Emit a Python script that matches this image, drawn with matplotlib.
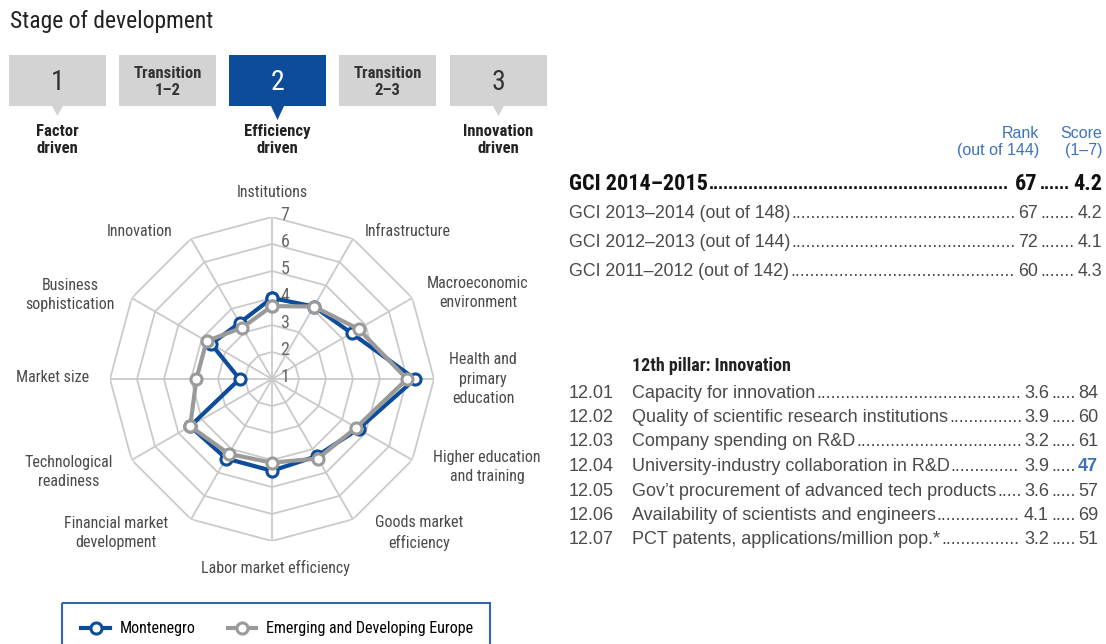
import numpy as np
import matplotlib
matplotlib.use('Agg')
import matplotlib.pyplot as plt
from matplotlib.patches import Rectangle, Polygon

# ---- data ----
pillars = ['Institutions', 'Infrastructure', 'Macroeconomic\nenvironment',
           'Health and\nprimary\neducation', 'Higher education\nand training',
           'Goods market\nefficiency', 'Labor market efficiency',
           'Financial market\ndevelopment', 'Technological\nreadiness',
           'Market size', 'Business\nsophistication', 'Innovation']
montenegro = [4.0, 4.1, 4.4, 6.3, 4.7, 4.3, 4.4, 4.4, 4.5, 2.2, 3.6, 3.4]
europe = [3.7, 4.1, 4.7, 6.0, 4.6, 4.4, 4.1, 4.2, 4.5, 3.8, 3.8, 3.2]
ring_values = [1, 2, 3, 4, 5, 6, 7]

stages = ['1', 'Transition\n1–2', '2', 'Transition\n2–3', '3']
stage_driven = {0: 'Factor\ndriven', 2: 'Efficiency\ndriven', 4: 'Innovation\ndriven'}
current_stage = 2

gci_labels = ['GCI 2014–2015', 'GCI 2013–2014 (out of 148)',
              'GCI 2012–2013 (out of 144)', 'GCI 2011–2012 (out of 142)']
gci_rank = ['67', '67', '72', '60']
gci_score = ['4.2', '4.2', '4.1', '4.3']

pillar_codes = ['12.01', '12.02', '12.03', '12.04', '12.05', '12.06', '12.07']
pillar_items = ['Capacity for innovation',
                'Quality of scientific research institutions',
                'Company spending on R&D',
                'University-industry collaboration in R&D',
                'Gov’t procurement of advanced tech products',
                'Availability of scientists and engineers',
                'PCT patents, applications/million pop.*']
pillar_scores = ['3.6', '3.9', '3.2', '3.9', '3.6', '4.1', '3.2']
pillar_ranks = ['84', '60', '61', '47', '57', '69', '51']
highlight_rank = 3  # 12.04 shown in blue

# ---- style ----
NARROW = ['Liberation Sans Narrow', 'Roboto Condensed', 'DejaVu Sans Condensed',
          'Liberation Sans']
REG = ['Liberation Sans', 'DejaVu Sans']
BLUE = '#0d4c9b'
LBLUE = '#3d72b8'
GRAY_BOX = '#d3d3d3'
TXT = '#4a4a4a'
GRID = '#cacaca'
GREY_LINE = '#9a9a9a'

fig = plt.figure(figsize=(11.06, 6.44), dpi=100)
bg = fig.add_axes([0, 0, 1, 1])
bg.set_xlim(0, 1106)
bg.set_ylim(644, 0)
bg.axis('off')

bg.text(10, 21, 'Stage of development', fontsize=17, family=NARROW,
        color='#222222', va='center', ha='left')

# stage boxes
box_x = [9, 119, 229, 339, 450]
for i, (lab, x) in enumerate(zip(stages, box_x)):
    col = BLUE if i == current_stage else GRAY_BOX
    tcol = 'white' if i == current_stage else '#333333'
    bg.add_patch(Rectangle((x, 55), 97, 51, color=col, lw=0))
    if lab.startswith('Transition'):
        bg.text(x + 48.5, 82, lab, ha='center', va='center', fontsize=12,
                weight='bold', family=NARROW, color=tcol, linespacing=1.15)
    else:
        bg.text(x + 48.5, 82, lab, ha='center', va='center', fontsize=20,
                family=NARROW, color=tcol)
    if i in stage_driven:
        tip = 120 if i == current_stage else 116
        hw = 7 if i == current_stage else 6
        bg.add_patch(Polygon([[x + 48.5 - hw, 105], [x + 48.5 + hw, 105],
                              [x + 48.5, tip]], color=col, lw=0))
        bg.text(x + 48.5, 140, stage_driven[i], ha='center', va='center',
                fontsize=12, weight='bold', family=NARROW, color='#222222',
                linespacing=1.1)

# ---- radar ----
cx, cy, R = 272, 379, 162
rax = fig.add_axes([(cx - R) / 1106, (644 - cy - R) / 644, 2 * R / 1106, 2 * R / 644],
                   projection='polar')
rax.set_theta_zero_location('N')
rax.set_theta_direction(-1)
rax.set_ylim(1, 7)
rax.axis('off')
rax.patch.set_alpha(0)

theta = np.linspace(0, 2 * np.pi, len(pillars), endpoint=False)
theta_c = np.append(theta, theta[0])
for r in ring_values[1:]:
    rax.plot(theta_c, [r] * len(theta_c), color=GRID, lw=1.3, zorder=1)
for t in theta:
    rax.plot([t, t], [1, 7], color=GRID, lw=1.3, zorder=1)
for r in ring_values:
    rax.annotate(str(r), (0, r), xytext=(13, 2), textcoords='offset pixels',
                 ha='center', va='center', fontsize=13, family=NARROW,
                 color='#666666', zorder=2)

l_mne, = rax.plot(theta_c, montenegro + montenegro[:1], color=BLUE, lw=3,
                  marker='o', ms=8, mfc='white', mec=BLUE, mew=2.2, zorder=3,
                  clip_on=False)
l_ede, = rax.plot(theta_c, europe + europe[:1], color=GREY_LINE, lw=3,
                  marker='o', ms=8, mfc='white', mec=GREY_LINE, mew=2.2, zorder=4,
                  clip_on=False)

label_pos = [(272, 192), (408, 231), (478, 293), (483, 379), (487, 467),
             (419, 533), (275, 568), (116, 533), (69, 472), (53, 377),
             (70, 295), (140, 231)]
for lab, (x, y) in zip(pillars, label_pos):
    bg.text(x, y, lab, ha='center', va='center', fontsize=11.5, family=NARROW,
            color=TXT, linespacing=1.4)

# legend
bg.add_patch(Rectangle((62, 603), 428, 60, fill=False, edgecolor='#3566ad',
                       lw=1.5, clip_on=False))
fig.legend([l_mne, l_ede], ['Montenegro', 'Emerging and Developing Europe'],
           loc='center left', bbox_to_anchor=(67 / 1106, 1 - 629 / 644), ncol=2,
           frameon=False, numpoints=1, handlelength=1.8, columnspacing=2.0,
           handletextpad=0.6, prop={'family': NARROW, 'size': 11.5})

# ---- tables ----
renderer = fig.canvas.get_renderer()


def text_extent(t):
    bb = t.get_window_extent(renderer)
    return bb.x0, bb.x1


def leader(x0, x1, y, **kw):
    probe = bg.text(0, y, '.' * 40, **kw)
    a, b = text_extent(probe)
    probe.remove()
    dw = (b - a) / 40
    n = max(int((x1 - x0) / dw), 0)
    bg.text(x0, y, '.' * n, ha='left', va='center', **kw)


bg.text(1039, 142, 'Rank\n(out of 144)', ha='right', va='center', fontsize=11.5,
        family=REG, color=LBLUE, linespacing=1.1)
bg.text(1102, 142, 'Score\n(1–7)', ha='right', va='center', fontsize=11.5,
        family=REG, color=LBLUE, linespacing=1.1)

gci_y = [184, 213, 242, 271]
for i, (lab, rk, sc, y) in enumerate(zip(gci_labels, gci_rank, gci_score, gci_y)):
    kw = dict(fontsize=16, weight='bold', family=NARROW, color='#111111') if i == 0 \
        else dict(fontsize=12.8, family=REG, color=TXT)
    t1 = bg.text(569, y, lab, ha='left', va='center', **kw)
    t2 = bg.text(1038, y, rk, ha='right', va='center', **kw)
    t3 = bg.text(1102, y, sc, ha='right', va='center', **kw)
    dkw = dict(fontsize=12.8, family=REG, color=kw['color'])
    if i == 0:
        dkw['weight'] = 'bold'
    leader(text_extent(t1)[1] + 1, text_extent(t2)[0] - 2, y, **dkw)
    leader(text_extent(t2)[1] + 2, text_extent(t3)[0] - 2, y, **dkw)

bg.text(632, 366, '12th pillar: Innovation', ha='left', va='center', fontsize=13,
        weight='bold', family=NARROW, color='#222222')
p_y = [393, 417, 441, 466, 491, 515, 540]
for i, y in enumerate(p_y):
    kw = dict(fontsize=13, family=REG, color=TXT)
    bg.text(569, y, pillar_codes[i], ha='left', va='center', **kw)
    t1 = bg.text(632, y, pillar_items[i], ha='left', va='center', **kw)
    t2 = bg.text(1049, y, pillar_scores[i], ha='right', va='center', **kw)
    if i == highlight_rank:
        t3 = bg.text(1098, y, pillar_ranks[i], ha='right', va='center',
                     fontsize=13, family=REG, color=LBLUE, weight='bold')
    else:
        t3 = bg.text(1098, y, pillar_ranks[i], ha='right', va='center', **kw)
    leader(text_extent(t1)[1] + 1, text_extent(t2)[0] - 1, y, **kw)
    leader(text_extent(t2)[1] + 2, text_extent(t3)[0] - 2, y, **kw)

fig.savefig('out.png', dpi=100)
